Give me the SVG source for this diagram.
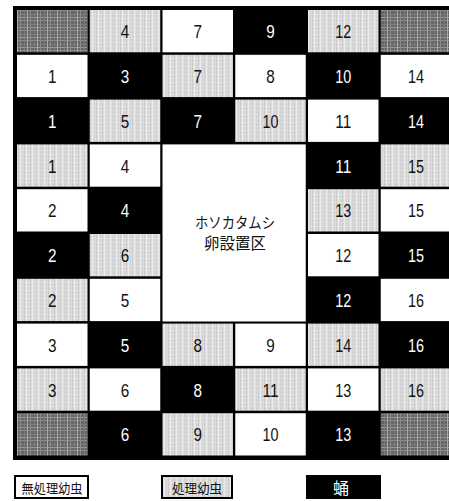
<svg xmlns="http://www.w3.org/2000/svg" width="449" height="501" viewBox="0 0 449 501">
<defs>
<pattern id="pd" width="10" height="10" patternUnits="userSpaceOnUse">
<rect width="10" height="10" fill="#666"/>
<rect x="0" y="0" width="10" height="1" fill="#8c8c8c"/>
<rect x="0" y="4" width="10" height="1" fill="#7c7c7c"/>
<rect x="0" y="7" width="10" height="1" fill="#9a9a9a"/>
<rect x="0" y="0" width="1" height="10" fill="#8c8c8c"/>
<rect x="4" y="0" width="1" height="10" fill="#7c7c7c"/>
<rect x="7" y="0" width="1" height="10" fill="#a8a8a8"/>
</pattern>
<pattern id="pg" width="6" height="4" patternUnits="userSpaceOnUse">
<rect width="6" height="4" fill="#dcdcdc"/>
<rect x="0" y="0" width="1" height="4" fill="#c8c8c8"/>
<rect x="2" y="0" width="1" height="4" fill="#ebebeb"/>
<rect x="4" y="0" width="1" height="4" fill="#d0d0d0"/>
<rect x="0" y="2" width="6" height="1" fill="#e4e4e4" opacity="0.6"/>
</pattern>
</defs>
<style>
.D{fill:url(#pd)}
.G{fill:url(#pg)}
.W{fill:#fff}
.B{fill:#000}
.n{font-family:"Liberation Sans Narrow","Liberation Sans",Arial,sans-serif;font-size:18.5px;text-anchor:middle;fill:#111}
.nw{fill:#fff}
.jp{font-family:"Noto Sans CJK JP","Noto Sans CJK SC",sans-serif;text-anchor:middle;fill:#111}
.lb{stroke:#000;stroke-width:2}
</style>
<rect x="13" y="6" width="440" height="454" fill="#000"/>
<g id="cells">
<g id="r1c1"><rect class="D" x="17" y="10" width="70.5" height="42.3"/></g>
<g id="r1c2"><rect class="G" x="89.75" y="10" width="70.5" height="42.3"/><text class="n" x="125" y="38.2" textLength="8.5" lengthAdjust="spacingAndGlyphs">4</text></g>
<g id="r1c3"><rect class="W" x="162.5" y="10" width="70.5" height="42.3"/><text class="n" x="197.75" y="38.2" textLength="8.5" lengthAdjust="spacingAndGlyphs">7</text></g>
<g id="r1c4"><rect class="B" x="235.25" y="10" width="70.5" height="42.3"/><text class="n nw" x="270.5" y="38.2" textLength="8.5" lengthAdjust="spacingAndGlyphs">9</text></g>
<g id="r1c5"><rect class="G" x="308" y="10" width="70.5" height="42.3"/><text class="n" x="343.25" y="38.2" textLength="16" lengthAdjust="spacingAndGlyphs">12</text></g>
<g id="r1c6"><rect class="D" x="380.75" y="10" width="70.5" height="42.3"/></g>

<g id="r2c1"><rect class="W" x="17" y="54.8" width="70.5" height="42.3"/><text class="n" x="52.25" y="83" textLength="8.5" lengthAdjust="spacingAndGlyphs">1</text></g>
<g id="r2c2"><rect class="B" x="89.75" y="54.8" width="70.5" height="42.3"/><text class="n nw" x="125" y="83" textLength="8.5" lengthAdjust="spacingAndGlyphs">3</text></g>
<g id="r2c3"><rect class="G" x="162.5" y="54.8" width="70.5" height="42.3"/><text class="n" x="197.75" y="83" textLength="8.5" lengthAdjust="spacingAndGlyphs">7</text></g>
<g id="r2c4"><rect class="W" x="235.25" y="54.8" width="70.5" height="42.3"/><text class="n" x="270.5" y="83" textLength="8.5" lengthAdjust="spacingAndGlyphs">8</text></g>
<g id="r2c5"><rect class="B" x="308" y="54.8" width="70.5" height="42.3"/><text class="n nw" x="343.25" y="83" textLength="16" lengthAdjust="spacingAndGlyphs">10</text></g>
<g id="r2c6"><rect class="W" x="380.75" y="54.8" width="70.5" height="42.3"/><text class="n" x="416" y="83" textLength="16" lengthAdjust="spacingAndGlyphs">14</text></g>

<g id="r3c1"><rect class="B" x="17" y="99.6" width="70.5" height="42.3"/><text class="n nw" x="52.25" y="127.8" textLength="8.5" lengthAdjust="spacingAndGlyphs">1</text></g>
<g id="r3c2"><rect class="G" x="89.75" y="99.6" width="70.5" height="42.3"/><text class="n" x="125" y="127.8" textLength="8.5" lengthAdjust="spacingAndGlyphs">5</text></g>
<g id="r3c3"><rect class="B" x="162.5" y="99.6" width="70.5" height="42.3"/><text class="n nw" x="197.75" y="127.8" textLength="8.5" lengthAdjust="spacingAndGlyphs">7</text></g>
<g id="r3c4"><rect class="G" x="235.25" y="99.6" width="70.5" height="42.3"/><text class="n" x="270.5" y="127.8" textLength="16" lengthAdjust="spacingAndGlyphs">10</text></g>
<g id="r3c5"><rect class="W" x="308" y="99.6" width="70.5" height="42.3"/><text class="n" x="343.25" y="127.8" textLength="16" lengthAdjust="spacingAndGlyphs">11</text></g>
<g id="r3c6"><rect class="B" x="380.75" y="99.6" width="70.5" height="42.3"/><text class="n nw" x="416" y="127.8" textLength="16" lengthAdjust="spacingAndGlyphs">14</text></g>

<g id="r4c1"><rect class="G" x="17" y="144.4" width="70.5" height="42.3"/><text class="n" x="52.25" y="172.6" textLength="8.5" lengthAdjust="spacingAndGlyphs">1</text></g>
<g id="r4c2"><rect class="W" x="89.75" y="144.4" width="70.5" height="42.3"/><text class="n" x="125" y="172.6" textLength="8.5" lengthAdjust="spacingAndGlyphs">4</text></g>
<g id="r4c5"><rect class="B" x="308" y="144.4" width="70.5" height="42.3"/><text class="n nw" x="343.25" y="172.6" textLength="16" lengthAdjust="spacingAndGlyphs">11</text></g>
<g id="r4c6"><rect class="G" x="380.75" y="144.4" width="70.5" height="42.3"/><text class="n" x="416" y="172.6" textLength="16" lengthAdjust="spacingAndGlyphs">15</text></g>

<g id="r5c1"><rect class="W" x="17" y="189.2" width="70.5" height="42.3"/><text class="n" x="52.25" y="217.4" textLength="8.5" lengthAdjust="spacingAndGlyphs">2</text></g>
<g id="r5c2"><rect class="B" x="89.75" y="189.2" width="70.5" height="42.3"/><text class="n nw" x="125" y="217.4" textLength="8.5" lengthAdjust="spacingAndGlyphs">4</text></g>
<g id="r5c5"><rect class="G" x="308" y="189.2" width="70.5" height="42.3"/><text class="n" x="343.25" y="217.4" textLength="16" lengthAdjust="spacingAndGlyphs">13</text></g>
<g id="r5c6"><rect class="W" x="380.75" y="189.2" width="70.5" height="42.3"/><text class="n" x="416" y="217.4" textLength="16" lengthAdjust="spacingAndGlyphs">15</text></g>

<g id="r6c1"><rect class="B" x="17" y="234" width="70.5" height="42.3"/><text class="n nw" x="52.25" y="262.2" textLength="8.5" lengthAdjust="spacingAndGlyphs">2</text></g>
<g id="r6c2"><rect class="G" x="89.75" y="234" width="70.5" height="42.3"/><text class="n" x="125" y="262.2" textLength="8.5" lengthAdjust="spacingAndGlyphs">6</text></g>
<g id="r6c5"><rect class="W" x="308" y="234" width="70.5" height="42.3"/><text class="n" x="343.25" y="262.2" textLength="16" lengthAdjust="spacingAndGlyphs">12</text></g>
<g id="r6c6"><rect class="B" x="380.75" y="234" width="70.5" height="42.3"/><text class="n nw" x="416" y="262.2" textLength="16" lengthAdjust="spacingAndGlyphs">15</text></g>

<g id="r7c1"><rect class="G" x="17" y="278.8" width="70.5" height="42.3"/><text class="n" x="52.25" y="307" textLength="8.5" lengthAdjust="spacingAndGlyphs">2</text></g>
<g id="r7c2"><rect class="W" x="89.75" y="278.8" width="70.5" height="42.3"/><text class="n" x="125" y="307" textLength="8.5" lengthAdjust="spacingAndGlyphs">5</text></g>
<g id="r7c5"><rect class="B" x="308" y="278.8" width="70.5" height="42.3"/><text class="n nw" x="343.25" y="307" textLength="16" lengthAdjust="spacingAndGlyphs">12</text></g>
<g id="r7c6"><rect class="W" x="380.75" y="278.8" width="70.5" height="42.3"/><text class="n" x="416" y="307" textLength="16" lengthAdjust="spacingAndGlyphs">16</text></g>

<g id="r8c1"><rect class="W" x="17" y="323.6" width="70.5" height="42.3"/><text class="n" x="52.25" y="351.8" textLength="8.5" lengthAdjust="spacingAndGlyphs">3</text></g>
<g id="r8c2"><rect class="B" x="89.75" y="323.6" width="70.5" height="42.3"/><text class="n nw" x="125" y="351.8" textLength="8.5" lengthAdjust="spacingAndGlyphs">5</text></g>
<g id="r8c3"><rect class="G" x="162.5" y="323.6" width="70.5" height="42.3"/><text class="n" x="197.75" y="351.8" textLength="8.5" lengthAdjust="spacingAndGlyphs">8</text></g>
<g id="r8c4"><rect class="W" x="235.25" y="323.6" width="70.5" height="42.3"/><text class="n" x="270.5" y="351.8" textLength="8.5" lengthAdjust="spacingAndGlyphs">9</text></g>
<g id="r8c5"><rect class="G" x="308" y="323.6" width="70.5" height="42.3"/><text class="n" x="343.25" y="351.8" textLength="16" lengthAdjust="spacingAndGlyphs">14</text></g>
<g id="r8c6"><rect class="B" x="380.75" y="323.6" width="70.5" height="42.3"/><text class="n nw" x="416" y="351.8" textLength="16" lengthAdjust="spacingAndGlyphs">16</text></g>

<g id="r9c1"><rect class="G" x="17" y="368.4" width="70.5" height="42.3"/><text class="n" x="52.25" y="396.6" textLength="8.5" lengthAdjust="spacingAndGlyphs">3</text></g>
<g id="r9c2"><rect class="W" x="89.75" y="368.4" width="70.5" height="42.3"/><text class="n" x="125" y="396.6" textLength="8.5" lengthAdjust="spacingAndGlyphs">6</text></g>
<g id="r9c3"><rect class="B" x="162.5" y="368.4" width="70.5" height="42.3"/><text class="n nw" x="197.75" y="396.6" textLength="8.5" lengthAdjust="spacingAndGlyphs">8</text></g>
<g id="r9c4"><rect class="G" x="235.25" y="368.4" width="70.5" height="42.3"/><text class="n" x="270.5" y="396.6" textLength="16" lengthAdjust="spacingAndGlyphs">11</text></g>
<g id="r9c5"><rect class="W" x="308" y="368.4" width="70.5" height="42.3"/><text class="n" x="343.25" y="396.6" textLength="16" lengthAdjust="spacingAndGlyphs">13</text></g>
<g id="r9c6"><rect class="G" x="380.75" y="368.4" width="70.5" height="42.3"/><text class="n" x="416" y="396.6" textLength="16" lengthAdjust="spacingAndGlyphs">16</text></g>

<g id="r10c1"><rect class="D" x="17" y="413.2" width="70.5" height="42.3"/></g>
<g id="r10c2"><rect class="B" x="89.75" y="413.2" width="70.5" height="42.3"/><text class="n nw" x="125" y="441.4" textLength="8.5" lengthAdjust="spacingAndGlyphs">6</text></g>
<g id="r10c3"><rect class="G" x="162.5" y="413.2" width="70.5" height="42.3"/><text class="n" x="197.75" y="441.4" textLength="8.5" lengthAdjust="spacingAndGlyphs">9</text></g>
<g id="r10c4"><rect class="W" x="235.25" y="413.2" width="70.5" height="42.3"/><text class="n" x="270.5" y="441.4" textLength="16" lengthAdjust="spacingAndGlyphs">10</text></g>
<g id="r10c5"><rect class="B" x="308" y="413.2" width="70.5" height="42.3"/><text class="n nw" x="343.25" y="441.4" textLength="16" lengthAdjust="spacingAndGlyphs">13</text></g>
<g id="r10c6"><rect class="D" x="380.75" y="413.2" width="70.5" height="42.3"/></g>
</g>
<g id="center">
<rect class="W" x="162.5" y="144.4" width="143.25" height="177.1"/>
<text class="jp" x="235" y="228" font-size="15" textLength="80" lengthAdjust="spacingAndGlyphs">ホソカタムシ</text>
<text class="jp" x="235" y="249" font-size="15.5" textLength="62" lengthAdjust="spacingAndGlyphs">卵設置区</text>
</g>
<g id="legend">
<g id="leg-untreated"><rect class="W lb" x="15" y="476" width="73" height="22"/><text class="jp" x="52" y="492.5" font-size="13" textLength="61" lengthAdjust="spacingAndGlyphs">無処理幼虫</text></g>
<g id="leg-treated"><rect class="G lb" x="162" y="476" width="70" height="22"/><text class="jp" x="197" y="492.5" font-size="13" textLength="50" lengthAdjust="spacingAndGlyphs">処理幼虫</text></g>
<g id="leg-pupa"><rect class="B" x="306" y="475" width="75" height="24"/><text class="jp" x="341" y="494" font-size="16" style="fill:#fff">蛹</text></g>
</g>
</svg>
